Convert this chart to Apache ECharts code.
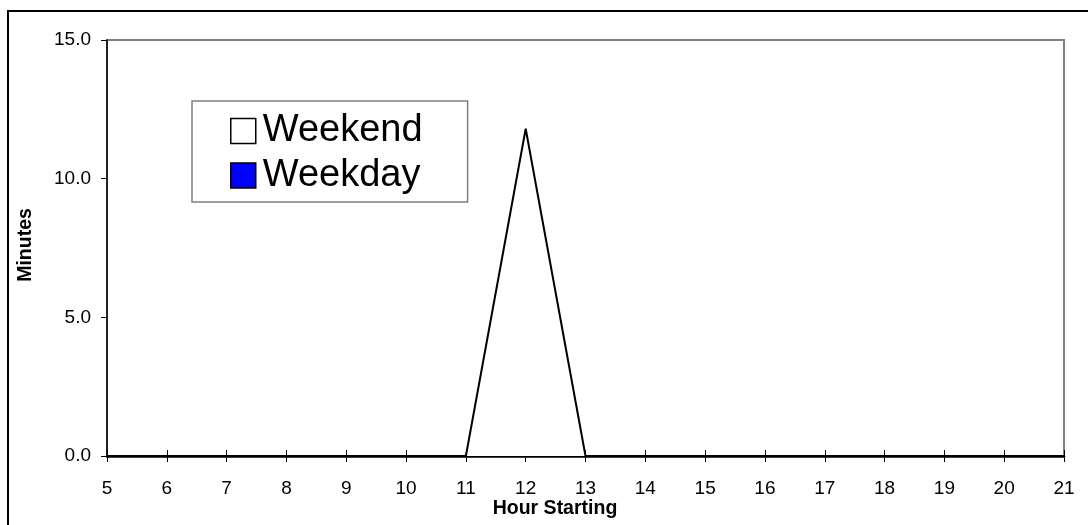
<!DOCTYPE html>
<html>
<head>
<meta charset="utf-8">
<title>Minutes by Hour Starting</title>
<script src="https://cdn.jsdelivr.net/npm/echarts@6/dist/echarts.min.js"></script>
<style>
  html, body { margin: 0; padding: 0; background: #ffffff; }
  #chart { width: 1088px; height: 525px; }
</style>
</head>
<body>
<div id="chart"></div>
<script>
// Hours of the day (hour starting)
const hours = ['5', '6', '7', '8', '9', '10', '11', '12', '13', '14', '15', '16', '17', '18', '19', '20', '21'];
// Minutes per hour
const weekendMinutes = [0, 0, 0, 0, 0, 0, 0, 11.8, 0, 0, 0, 0, 0, 0, 0, 0, 0];
const weekdayMinutes = [0, 0, 0, 0, 0, 0, 0, 0, 0, 0, 0, 0, 0, 0, 0, 0, 0];
// Value axis ticks
const yTicks = { min: 0, max: 15, interval: 5 };

const FONT = '"Liberation Sans", Arial, sans-serif';

const chart = echarts.init(document.getElementById('chart'), null, { renderer: 'canvas' });

chart.setOption({
  backgroundColor: '#ffffff',
  animation: false,
  grid: {
    left: 107, right: 24, top: 40, bottom: 69,
    show: true,
    borderColor: '#808080',
    borderWidth: 2,
    backgroundColor: 'transparent'
  },
  legend: {
    orient: 'vertical',
    left: 192,
    top: 101,
    data: ['Weekend', 'Weekday'],
    icon: 'rect',
    itemWidth: 25,
    itemHeight: 25,
    itemGap: 6.5,
    padding: [11, 45, 7.5, 38],
    backgroundColor: '#ffffff',
    borderColor: '#808080',
    borderWidth: 1.5,
    borderRadius: 0,
    itemStyle: { borderColor: '#000000', borderWidth: 1.5 },
    textStyle: {
      fontFamily: FONT,
      fontSize: 38,
      color: '#000000',
      lineHeight: 38,
      padding: [0, 0, 0, 2]
    }
  },
  xAxis: [
    {
      type: 'category',
      data: hours,
      boundaryGap: false,
      position: 'bottom',
      axisLine: { show: true, onZero: false, lineStyle: { color: '#000000', width: 2.5 } },
      axisTick: { show: true, length: 6, lineStyle: { color: '#000000', width: 1 } },
      axisLabel: { fontFamily: FONT, fontSize: 19, color: '#000000', margin: 23, interval: 0 },
      splitLine: { show: false }
    },
    {
      // inner half of the crossing tick marks
      type: 'category',
      data: hours,
      boundaryGap: false,
      position: 'bottom',
      axisLine: { show: false },
      axisTick: { show: true, inside: true, length: 6, lineStyle: { color: '#000000', width: 1 } },
      axisLabel: { show: false },
      splitLine: { show: false }
    }
  ],
  yAxis: {
    type: 'value',
    min: yTicks.min,
    max: yTicks.max,
    interval: yTicks.interval,
    axisLine: { show: true, lineStyle: { color: '#000000', width: 1.5 } },
    axisTick: { show: true, length: 6, lineStyle: { color: '#000000', width: 1 } },
    axisLabel: {
      fontFamily: FONT, fontSize: 19, color: '#000000', margin: 16,
      formatter: v => v.toFixed(1)
    },
    splitLine: { show: false }
  },
  series: [
    {
      name: 'Weekday',
      type: 'line',
      data: weekdayMinutes,
      symbol: 'none',
      z: 2,
      itemStyle: { color: '#0000ff' },
      lineStyle: { color: '#000000', width: 2 },
      areaStyle: { color: '#0000ff', opacity: 1 }
    },
    {
      name: 'Weekend',
      type: 'line',
      data: weekendMinutes,
      symbol: 'none',
      z: 3,
      itemStyle: { color: '#ffffff' },
      lineStyle: { color: '#000000', width: 2 },
      areaStyle: { color: '#ffffff', opacity: 1 }
    }
  ],
  graphic: [
    {
      type: 'rect',
      silent: true,
      z: 100,
      shape: { x: 8, y: 11, width: 1200, height: 700 },
      style: { fill: 'none', stroke: '#000000', lineWidth: 2 }
    },
    {
      type: 'text',
      silent: true,
      x: 555, y: 509,
      style: {
        text: 'Hour Starting',
        font: 'bold 19.5px ' + FONT,
        fill: '#000000',
        align: 'center',
        verticalAlign: 'middle'
      }
    },
    {
      type: 'text',
      silent: true,
      x: 26, y: 245,
      rotation: Math.PI / 2,
      style: {
        text: 'Minutes',
        font: 'bold 19.5px ' + FONT,
        fill: '#000000',
        align: 'center',
        verticalAlign: 'middle'
      }
    }
  ]
});
</script>
</body>
</html>
